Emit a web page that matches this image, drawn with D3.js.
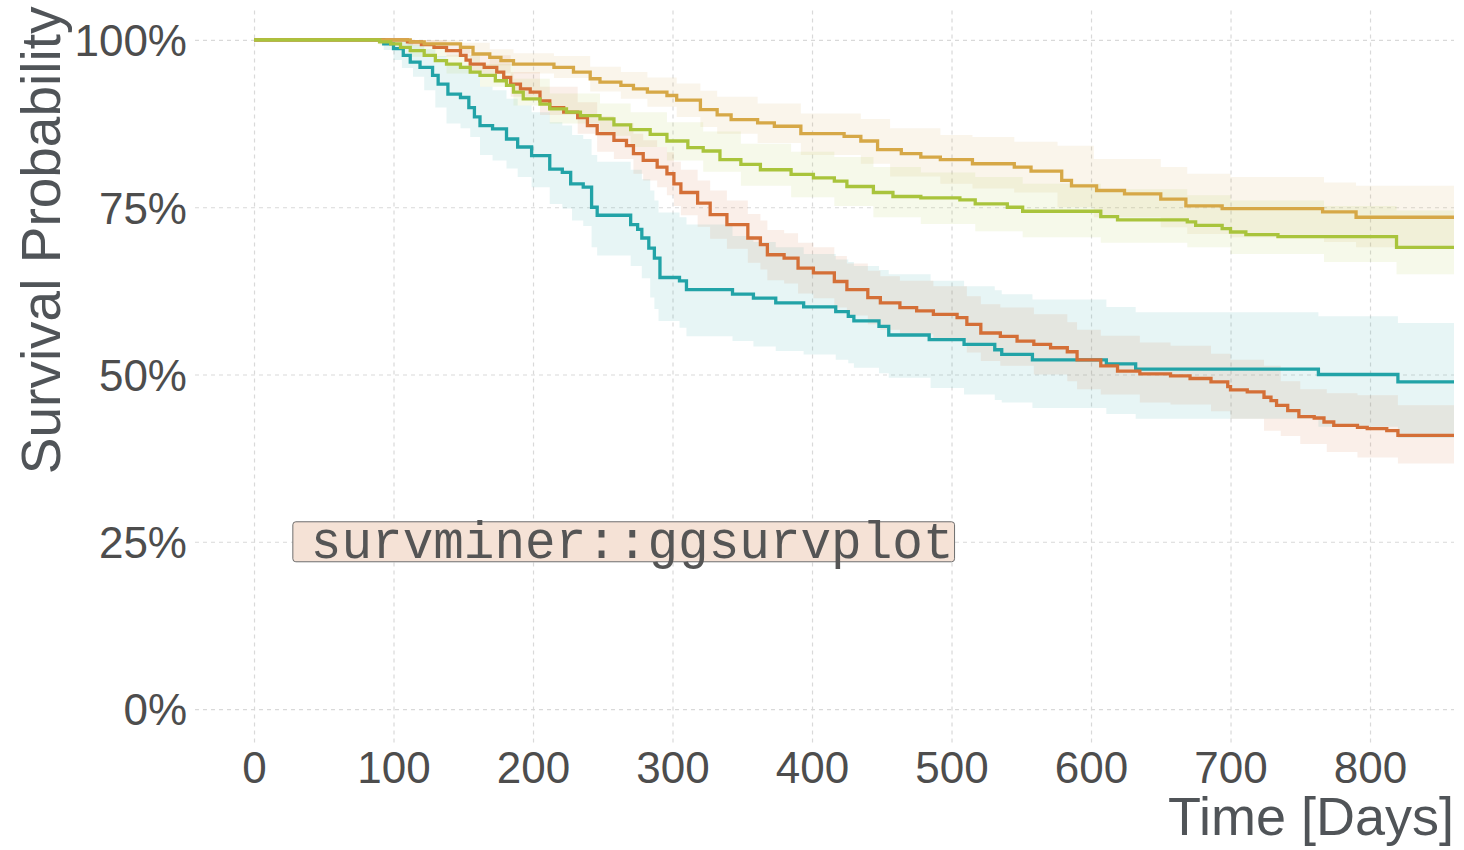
<!DOCTYPE html>
<html>
<head>
<meta charset="utf-8">
<script src="https://cdn.jsdelivr.net/npm/d3@7/dist/d3.min.js"></script>
<style>
  body { margin: 0; background: #fff; }
  svg text { font-family: "Liberation Sans", Arial, sans-serif; }
</style>
</head>
<body>
<div id="chart"></div>
<script>
// Kaplan-Meier steps: [time, survival]
const tealSteps = [[0,1],[93,0.994],[100,0.987],[107,0.977],[112,0.967],[119,0.959],[128,0.947],[132,0.934],[139,0.919],[148,0.914],
  [154,0.899],[158,0.885],[162,0.872],[171,0.867],[181,0.852],[189,0.840],[199,0.827],[212,0.807],[221,0.802],[227,0.785],
  [236,0.780],[242,0.750],[246,0.738],[270,0.724],[275,0.717],[278,0.704],[283,0.689],[287,0.674],[291,0.645],[305,0.640],
  [310,0.627],[343,0.620],[358,0.614],[374,0.607],[394,0.601],[417,0.594],[426,0.587],[430,0.580],[448,0.572],[455,0.559],
  [484,0.552],[509,0.545],[531,0.537],[536,0.530],[558,0.522],[611,0.516],[632,0.508],[763,0.500],[820,0.489]];

const orangeSteps = [[0,1],[110,0.997],[120,0.993],[129,0.989],[138,0.984],[148,0.977],[152,0.970],[155,0.964],[165,0.959],[174,0.952],
  [179,0.944],[184,0.934],[191,0.927],[198,0.922],[205,0.909],[212,0.899],[222,0.892],[232,0.884],[239,0.872],[246,0.860],
  [258,0.850],[267,0.842],[272,0.830],[279,0.820],[289,0.810],[296,0.800],[301,0.785],[306,0.772],[318,0.756],[327,0.739],
  [339,0.724],[354,0.704],[363,0.694],[368,0.679],[380,0.674],[390,0.659],[401,0.652],[416,0.639],[425,0.627],[440,0.615],
  [449,0.607],[463,0.600],[475,0.595],[487,0.590],[504,0.585],[511,0.575],[521,0.562],[535,0.557],[547,0.550],[559,0.545],
  [571,0.540],[583,0.534],[590,0.522],[607,0.513],[619,0.505],[635,0.501],[657,0.498],[671,0.494],[686,0.489],[698,0.482],
  [700,0.477],[712,0.474],[724,0.466],[729,0.461],[733,0.454],[741,0.446],[749,0.437],[760,0.435],[767,0.429],[774,0.424],
  [791,0.421],[798,0.419],[812,0.416],[820,0.409]];

const goldSteps = [[0,1],[112,0.997],[122,0.994],[148,0.989],[157,0.979],[169,0.974],[177,0.969],[186,0.964],[215,0.959],[229,0.952],
  [241,0.942],[248,0.937],[263,0.932],[272,0.927],[282,0.922],[296,0.917],[303,0.910],[320,0.896],[332,0.888],[342,0.881],
  [361,0.876],[373,0.871],[392,0.860],[423,0.856],[435,0.849],[447,0.836],[464,0.830],[478,0.825],[492,0.821],[515,0.815],
  [545,0.810],[557,0.804],[579,0.790],[586,0.782],[604,0.775],[624,0.770],[650,0.762],[668,0.752],[694,0.748],[766,0.743],
  [790,0.735]];

const greenSteps = [[0,1],[90,0.997],[98,0.994],[105,0.989],[112,0.984],[122,0.977],[130,0.969],[138,0.964],[148,0.959],[155,0.952],
  [162,0.947],[173,0.939],[181,0.932],[186,0.922],[193,0.912],[205,0.904],[212,0.897],[224,0.892],[234,0.887],[248,0.882],
  [258,0.873],[270,0.866],[284,0.859],[296,0.849],[311,0.839],[322,0.834],[334,0.821],[349,0.814],[363,0.806],[385,0.799],
  [401,0.794],[416,0.789],[425,0.781],[444,0.772],[458,0.766],[478,0.764],[506,0.761],[517,0.755],[540,0.750],[551,0.744],
  [607,0.736],[619,0.731],[669,0.728],[675,0.723],[694,0.718],[700,0.713],[711,0.709],[734,0.706],[819,0.690]];

// confidence bands: [time, lower, upper]
const tealBand = [[0,1,1],[93,0.985,1],[100,0.970,1],[106,0.958,0.998],[114,0.945,0.992],[122,0.925,0.986],[130,0.899,0.976],
  [138,0.875,0.965],[148,0.868,0.962],[155,0.855,0.950],[162,0.828,0.930],[171,0.820,0.925],[181,0.808,0.912],[189,0.795,0.902],
  [199,0.780,0.892],[212,0.755,0.877],[221,0.748,0.872],[228,0.730,0.858],[236,0.722,0.852],[242,0.690,0.828],[246,0.678,0.818],
  [270,0.662,0.806],[278,0.644,0.792],[284,0.615,0.775],[287,0.598,0.760],[290,0.580,0.742],[305,0.570,0.735],[310,0.557,0.724],
  [343,0.550,0.707],[358,0.542,0.698],[374,0.535,0.690],[394,0.530,0.680],[417,0.522,0.672],[426,0.517,0.668],[430,0.510,0.662],
  [448,0.502,0.656],[455,0.495,0.650],[485,0.480,0.640],[509,0.470,0.632],[531,0.462,0.626],[536,0.458,0.620],[558,0.450,0.612],
  [611,0.441,0.601],[632,0.434,0.593],[763,0.422,0.587],[820,0.405,0.577]];

const orangeBand = [[0,1,1],[110,0.992,1],[138,0.975,0.992],[155,0.950,0.977],[184,0.915,0.952],[205,0.888,0.930],[232,0.860,0.907],
  [246,0.833,0.886],[258,0.822,0.876],[272,0.800,0.860],[279,0.790,0.850],[289,0.780,0.840],[296,0.768,0.832],[301,0.752,0.818],
  [306,0.738,0.806],[318,0.721,0.790],[327,0.703,0.775],[339,0.688,0.760],[354,0.667,0.740],[363,0.657,0.730],[368,0.641,0.716],
  [380,0.636,0.711],[390,0.621,0.697],[401,0.614,0.690],[416,0.600,0.677],[425,0.588,0.666],[440,0.575,0.655],[449,0.567,0.647],
  [463,0.560,0.640],[487,0.550,0.632],[511,0.533,0.617],[521,0.520,0.605],[535,0.513,0.600],[559,0.500,0.590],[583,0.490,0.578],
  [590,0.478,0.567],[607,0.470,0.558],[635,0.458,0.548],[657,0.455,0.543],[686,0.445,0.531],[700,0.434,0.522],[724,0.416,0.513],
  [736,0.408,0.490],[750,0.396,0.478],[769,0.384,0.472],[791,0.376,0.469],[820,0.367,0.454]];

const goldBand = [[0,1,1],[112,0.992,1],[148,0.980,0.996],[169,0.962,0.986],[186,0.950,0.980],[215,0.943,0.976],[241,0.923,0.960],
  [263,0.912,0.952],[282,0.900,0.944],[303,0.885,0.935],[320,0.870,0.924],[332,0.860,0.915],[361,0.846,0.905],[392,0.828,0.890],
  [435,0.815,0.882],[456,0.796,0.868],[492,0.785,0.858],[515,0.778,0.855],[545,0.772,0.848],[576,0.750,0.842],[602,0.735,0.822],
  [650,0.720,0.810],[669,0.710,0.800],[700,0.705,0.795],[767,0.698,0.787],[790,0.690,0.782]];

const greenBand = [[0,1,1],[90,0.992,1],[112,0.975,0.993],[138,0.950,0.978],[162,0.930,0.964],[186,0.902,0.942],[212,0.875,0.920],
  [248,0.857,0.905],[270,0.840,0.892],[296,0.820,0.877],[322,0.803,0.863],[349,0.782,0.845],[385,0.765,0.833],[416,0.752,0.825],
  [444,0.735,0.810],[478,0.725,0.802],[517,0.714,0.795],[551,0.705,0.785],[607,0.697,0.777],[669,0.690,0.768],[700,0.680,0.760],
  [767,0.668,0.752],[819,0.650,0.745]];

// draw order: last one ends on top
const strata = [
  {name: 'teal', color: '#22A3A7', steps: tealSteps, band: tealBand},
  {name: 'orange', color: '#D46F37', steps: orangeSteps, band: orangeBand},
  {name: 'gold', color: '#D6A847', steps: goldSteps, band: goldBand},
  {name: 'green', color: '#A9C43C', steps: greenSteps, band: greenBand}
];

const xTicks = [0, 100, 200, 300, 400, 500, 600, 700, 800];
const yTicks = [0, 0.25, 0.5, 0.75, 1];
const labelText = 'survminer::ggsurvplot';
const labelAt = {time: 265, surv: 0.25};

const width = 1464;
const height = 850;
const panel = {left: 195, right: 1454, top: 6.5, bottom: 742.5};

const xScale = d3.scaleLinear()
    .domain([-42.3, 860.2])
    .range([panel.left, panel.right]);
const yScale = d3.scaleLinear()
    .domain([-0.05, 1.05])
    .range([panel.bottom, panel.top]);
const tMax = xScale.domain()[1];

const svg = d3.select('#chart')
  .append('svg')
    .attr('width', width)
    .attr('height', height);

// grid
const gridGroup = svg.append('g').classed('grid', true);
gridGroup.append('g')
    .attr('transform', `translate(0,${panel.bottom})`)
    .call(d3.axisBottom(xScale).tickValues(xTicks).tickSize(-(panel.bottom - panel.top)).tickFormat(''));
gridGroup.append('g')
    .attr('transform', `translate(${panel.left},0)`)
    .call(d3.axisLeft(yScale).tickValues(yTicks).tickSize(-(panel.right - panel.left)).tickFormat(''));
gridGroup.selectAll('.domain').remove();
gridGroup.selectAll('line')
    .attr('stroke', '#d9d9d9')
    .attr('stroke-width', 1.2)
    .attr('stroke-dasharray', '4,4');

// extend each step function to the right edge
const extend = rows => rows.concat([[tMax].concat(rows[rows.length - 1].slice(1))]);

const area = d3.area()
    .curve(d3.curveStepAfter)
    .x(d => xScale(d[0]))
    .y0(d => yScale(d[1]))
    .y1(d => yScale(d[2]));

const line = d3.line()
    .curve(d3.curveStepAfter)
    .x(d => xScale(d[0]))
    .y(d => yScale(d[1]));

svg.append('g').classed('bands', true)
  .selectAll('path')
    .data(strata)
  .enter().append('path')
    .attr('d', d => area(extend(d.band)))
    .attr('fill', d => d.color)
    .attr('fill-opacity', 0.11);

svg.append('g').classed('curves', true)
  .selectAll('path')
    .data(strata)
  .enter().append('path')
    .attr('d', d => line(extend(d.steps)))
    .attr('fill', 'none')
    .attr('stroke', d => d.color)
    .attr('stroke-width', 3.3);

// axes
const xAxisGroup = svg.append('g')
    .attr('transform', `translate(0,${panel.bottom})`)
    .call(d3.axisBottom(xScale).tickValues(xTicks).tickSize(0).tickPadding(9.5));
const yAxisGroup = svg.append('g')
    .attr('transform', `translate(${panel.left},0)`)
    .call(d3.axisLeft(yScale).tickValues(yTicks).tickSize(0).tickPadding(8).tickFormat(d3.format('.0%')));
svg.selectAll('.domain').remove();
svg.selectAll('.tick text')
    .attr('fill', '#4d4d4d')
    .style('font-size', '44px')
    .style('font-family', '"Liberation Sans", Arial, sans-serif');
yAxisGroup.selectAll('.tick text').attr('dy', '0.36em');

svg.append('text')
    .attr('transform', 'translate(60,6.5) rotate(-90)')
    .attr('text-anchor', 'end')
    .attr('fill', '#505458')
    .style('font-size', '55px')
    .text('Survival Probability');

svg.append('text')
    .attr('x', panel.right)
    .attr('y', 835)
    .attr('text-anchor', 'end')
    .attr('fill', '#505458')
    .style('font-size', '54px')
    .text('Time [Days]');

// annotation label
const label = svg.append('g').classed('label', true);
const labelBox = label.append('rect');
const labelTextNode = label.append('text')
    .attr('fill', '#555555')
    .style('font-family', '"Liberation Mono", "Courier New", monospace')
    .style('font-size', '51px')
    .text(labelText);
const textW = labelTextNode.node().getComputedTextLength();
const boxW = textW + 19;
const boxH = 40;
const boxX = xScale(labelAt.time) - boxW / 2;
const boxY = yScale(labelAt.surv) - boxH / 2;
labelBox
    .attr('x', boxX)
    .attr('y', boxY)
    .attr('width', boxW)
    .attr('height', boxH)
    .attr('rx', 3)
    .attr('fill', '#f5e2d6')
    .attr('stroke', '#6e6e6e')
    .attr('stroke-width', 1);
labelTextNode
    .attr('x', boxX + 18)
    .attr('y', boxY + boxH / 2 + 16);
</script>
</body>
</html>
